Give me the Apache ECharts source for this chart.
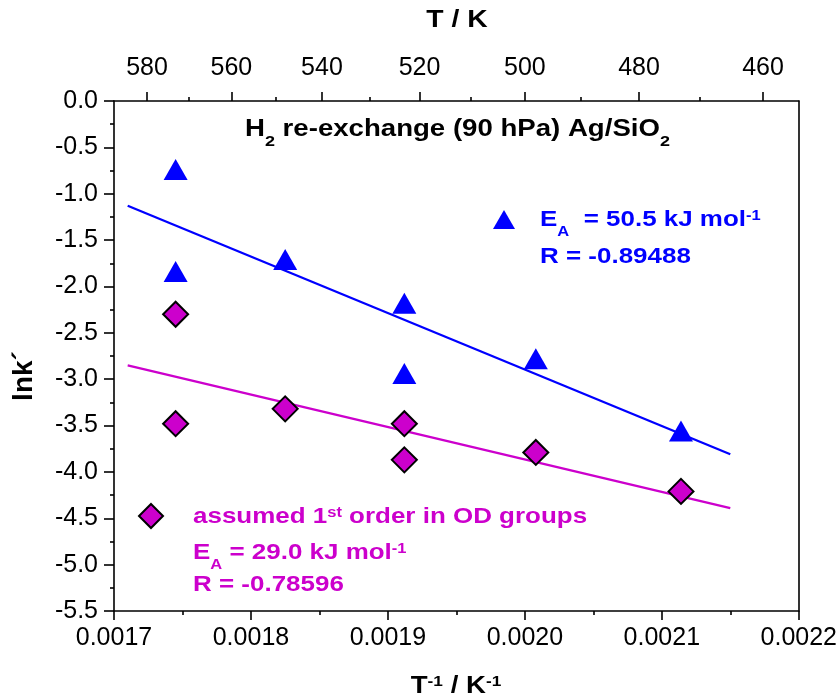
<!DOCTYPE html>
<html>
<head>
<meta charset="utf-8">
<script src="https://cdn.jsdelivr.net/npm/echarts@6/dist/echarts.min.js"></script>
<style>html,body{margin:0;padding:0;background:#fff;}#c{width:840px;height:700px;}</style>
</head>
<body>
<div id="c"></div>
<script>
// ---- data ----
const triX = [0.001745, 0.001745, 0.001825, 0.001912, 0.001912, 0.002008, 0.002114];
const triY = [-0.74, -1.84, -1.71, -2.18, -2.94, -2.78, -3.56];
const diaX = [0.001745, 0.001745, 0.001825, 0.001912, 0.001912, 0.002008, 0.002114];
const diaY = [-2.30, -3.48, -3.32, -3.48, -3.87, -3.79, -4.21];
const fitTriX = [0.00171, 0.00215];
const fitTriY = [-1.13, -3.81];
const fitDiaX = [0.00171, 0.00215];
const fitDiaY = [-2.85, -4.39];
const topTicksK = [580, 560, 540, 520, 500, 480, 460];
const topMinorK = [570, 550, 530, 510, 490, 470];
const xMin = 0.0017, xMax = 0.0022, xStep = 0.0001;
const yMin = -5.5, yMax = 0, yStep = 0.5;

const FONT = 'Liberation Sans, Arial, sans-serif';
const BLUE = '#0000FF', MAG = '#CC00CC';
const zip = (a, b) => a.map((v, i) => [v, b[i]]);

const chart = echarts.init(document.getElementById('c'), null, {renderer: 'canvas'});
const axisCommon = {
  axisLine: {show: true, onZero: false, lineStyle: {color: '#000', width: 1.6}},
  splitLine: {show: false}
};
const tickStyle = {width: 1.6, color: '#000'};
function rich(color, size) {
  const s = Math.round(size * 0.64);
  return {
    b: {fontFamily: FONT, fontWeight: 'bold', fontSize: size, fill: color, color: color, lineHeight: size, verticalAlign: 'middle'},
    sup: {fontFamily: FONT, fontWeight: 'bold', fontSize: s, fill: color, color: color, lineHeight: s, verticalAlign: 'top'},
    sub: {fontFamily: FONT, fontWeight: 'bold', fontSize: s, fill: color, color: color, lineHeight: s, verticalAlign: 'bottom', padding: [0, 0, -8, 0]}
  };
}
function label(x, y, text, color, size, sx) {
  return {type: 'text', x: x, y: y, scaleX: sx, scaleY: 1,
    style: {text: text, fill: color, rich: rich(color, size), verticalAlign: 'middle'}};
}
const option = {
  animation: false,
  backgroundColor: '#fff',
  grid: {left: 114, right: 41, top: 101, bottom: 89, containLabel: false},
  xAxis: [
    Object.assign({}, axisCommon, {
      type: 'value', position: 'bottom', min: xMin, max: xMax, interval: xStep,
      axisTick: {show: true, inside: false, length: 9, lineStyle: tickStyle},
      minorTick: {show: true, splitNumber: 2, length: 4, lineStyle: tickStyle},
      axisLabel: {fontFamily: FONT, fontSize: 25, color: '#000', margin: 15, formatter: v => v.toFixed(4)}
    }),
    Object.assign({}, axisCommon, {
      type: 'value', position: 'top', min: xMin, max: xMax,
      axisTick: {show: true, inside: false, length: 9, lineStyle: tickStyle,
        customValues: topTicksK.map(t => 1 / t)},
      axisLabel: {show: true, fontFamily: FONT, fontSize: 25, color: '#000', margin: 20,
        customValues: topTicksK.map(t => 1 / t), formatter: v => String(Math.round(1 / v))}
    }),
    {
      type: 'value', position: 'top', min: xMin, max: xMax,
      axisLine: {show: false}, splitLine: {show: false},
      axisTick: {show: true, inside: false, length: 4, lineStyle: tickStyle,
        customValues: topMinorK.map(t => 1 / t)},
      axisLabel: {show: false, customValues: topMinorK.map(t => 1 / t)}
    }
  ],
  yAxis: [
    Object.assign({}, axisCommon, {
      type: 'value', position: 'left', min: yMin, max: yMax, interval: yStep,
      axisTick: {show: true, inside: false, length: 10, lineStyle: tickStyle},
      minorTick: {show: true, splitNumber: 2, length: 4, lineStyle: tickStyle},
      axisLabel: {fontFamily: FONT, fontSize: 25, color: '#000', margin: 16, formatter: v => v.toFixed(1)}
    }),
    Object.assign({}, axisCommon, {
      type: 'value', position: 'right', min: yMin, max: yMax, interval: yStep,
      axisTick: {show: false}, axisLabel: {show: false}
    })
  ],
  legend: [
    {data: ['tri'], left: 488, top: 205, padding: 5, icon: 'triangle', itemWidth: 22, itemHeight: 19,
      formatter: () => '', selectedMode: false},
    {data: ['dia'], left: 133, top: 498, padding: 5, icon: 'diamond', itemWidth: 24, itemHeight: 24,
      formatter: () => '', selectedMode: false}
  ],
  series: [
    {name: 'fitTri', type: 'line', data: zip(fitTriX, fitTriY), showSymbol: false, symbol: 'none',
      lineStyle: {color: BLUE, width: 2.3}, z: 2},
    {name: 'fitDia', type: 'line', data: zip(fitDiaX, fitDiaY), showSymbol: false, symbol: 'none',
      lineStyle: {color: MAG, width: 2.3}, z: 2},
    {name: 'tri', type: 'scatter', data: zip(triX, triY), symbol: 'triangle', symbolSize: [24, 21],
      itemStyle: {color: BLUE, opacity: 1}, z: 3},
    {name: 'dia', type: 'scatter', data: zip(diaX, diaY), symbol: 'diamond', symbolSize: [25, 25],
      itemStyle: {color: MAG, borderColor: '#000', borderWidth: 2, opacity: 1}, z: 3}
  ],
  graphic: [
    {type: 'text', x: 24, y: 376, rotation: Math.PI / 2,
      style: {text: 'lnk´', font: 'bold 28px ' + FONT, fill: '#000', align: 'center', verticalAlign: 'middle'}},
    {type: 'text', x: 457, y: 20, scaleX: 1.18,
      style: {text: 'T / K', font: 'bold 24px ' + FONT, fill: '#000', align: 'center', verticalAlign: 'middle'}},
    {type: 'text', x: 456, y: 686, scaleX: 1.15,
      style: {text: '{b|T}{sup|-1}{b| / K}{sup|-1}', fill: '#000', rich: rich('#000', 24), align: 'center', verticalAlign: 'middle'}},
    label(245, 130, '{b|H}{sub|2}{b| re-exchange (90 hPa) Ag/SiO}{sub|2}', '#000', 23, 1.2),
    label(540, 220, '{b|E}{sub|A}{b|  = 50.5 kJ mol}{sup|-1}', BLUE, 22, 1.18),
    label(540, 257, '{b|R = -0.89488}', BLUE, 22, 1.18),
    label(193, 517, '{b|assumed 1}{sup|st}{b| order in OD groups}', MAG, 22, 1.18),
    label(193, 553, '{b|E}{sub|A}{b| = 29.0 kJ mol}{sup|-1}', MAG, 22, 1.18),
    label(193, 585, '{b|R = -0.78596}', MAG, 22, 1.18)
  ]
};
chart.setOption(option);
</script>
</body>
</html>
